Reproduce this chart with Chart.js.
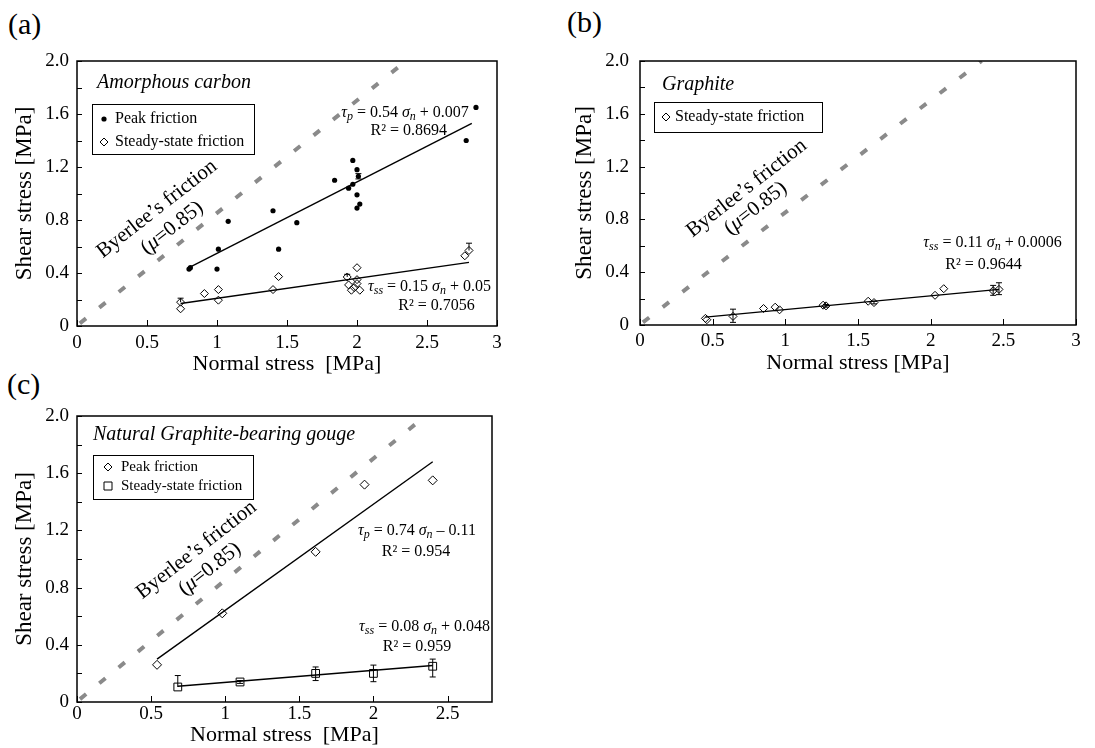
<!DOCTYPE html>
<html lang="en">
<head>
<meta charset="UTF-8">
<title>Shear stress vs normal stress</title>
<script src="https://cdn.jsdelivr.net/npm/chart.js@4"></script>
<style>
  body { margin: 0; background: #fff; }
  #wrap { position: relative; width: 1095px; height: 748px; overflow: hidden; background: #fff; }
  .tag { position: absolute; font: 30px "Liberation Serif", serif; color: #000; line-height: 1; }
  .box { position: absolute; overflow: hidden; }
  #blank { position: absolute; left: 560px; top: 380px; width: 535px; height: 368px; background: #fff; z-index: 5; }
</style>
</head>
<body>
<div id="wrap">
  <div class="tag" style="left:8px;top:9px">(a)</div>
  <div class="tag" style="left:567px;top:7px">(b)</div>
  <div class="tag" style="left:7px;top:369px">(c)</div>
  <div class="box" style="left:0;top:0;width:555px;height:375px"><canvas id="chartA" width="555" height="375"></canvas></div>
  <div class="box" style="left:560px;top:0;width:535px;height:375px"><canvas id="chartB" width="535" height="375"></canvas></div>
  <div class="box" style="left:0;top:385px;width:560px;height:363px"><canvas id="chartC" width="560" height="363"></canvas></div>
  <div id="blank"></div>
</div>
<script>
// tick labels
const yLabelValues = [0, 0.4, 0.8, 1.2, 1.6, 2.0];
const xLabelValues = [0, 0.5, 1, 1.5, 2, 2.5, 3];

// Byerlee's friction (mu = 0.85)
const byerleeX = [0.02, 2.35];
const byerleeY = [0.02, 2.0];

// (a) Amorphous carbon
const aPeakX = [0.80, 0.81, 1.00, 1.01, 1.08, 1.40, 1.44, 1.57, 1.84, 1.94, 1.97, 1.97, 2.00, 2.01, 2.00, 2.00, 2.02, 2.78, 2.85];
const aPeakY = [0.43, 0.44, 0.43, 0.58, 0.79, 0.87, 0.58, 0.78, 1.10, 1.04, 1.25, 1.07, 1.18, 1.13, 0.99, 0.89, 0.92, 1.40, 1.65];
const aPeakErr = [0, 0, 0, 0, 0, 0, 0, 0, 0, 0, 0, 0, 0, 0.02, 0, 0, 0, 0, 0];
const aSteadyX = [0.74, 0.74, 0.91, 1.01, 1.01, 1.40, 1.44, 1.93, 1.94, 1.96, 1.98, 2.00, 2.00, 2.00, 2.02, 2.77, 2.80];
const aSteadyY = [0.18, 0.13, 0.245, 0.275, 0.195, 0.275, 0.373, 0.37, 0.31, 0.27, 0.29, 0.44, 0.35, 0.32, 0.27, 0.53, 0.57];
const aSteadyErr = [0.03, 0, 0, 0, 0, 0, 0, 0.02, 0, 0, 0, 0, 0, 0, 0, 0, 0.055];
const aPeakFitX = [0.80, 2.82];
const aPeakFitY = [0.44, 1.53];
const aSteadyFitX = [0.74, 2.80];
const aSteadyFitY = [0.17, 0.48];

// (b) Graphite
const bSteadyX = [0.45, 0.46, 0.64, 0.85, 0.93, 0.96, 1.26, 1.28, 1.57, 1.61, 2.03, 2.09, 2.43, 2.47];
const bSteadyY = [0.05, 0.04, 0.065, 0.125, 0.135, 0.115, 0.15, 0.145, 0.18, 0.17, 0.225, 0.275, 0.26, 0.27];
const bErrUp = [0, 0, 0.055, 0, 0, 0, 0, 0.01, 0, 0.01, 0, 0, 0.04, 0.05];
const bErrDown = [0, 0, 0.045, 0, 0, 0, 0, 0.01, 0, 0.01, 0, 0, 0.035, 0.04];
const bFitX = [0.45, 2.47];
const bFitY = [0.06, 0.27];

// (c) Natural graphite-bearing gouge
const cPeakX = [0.54, 0.98, 1.61, 1.94, 2.40];
const cPeakY = [0.26, 0.62, 1.05, 1.52, 1.55];
const cSteadyX = [0.68, 1.10, 1.61, 2.00, 2.40];
const cSteadyY = [0.105, 0.14, 0.20, 0.20, 0.25];
const cErrUp = [0.08, 0.01, 0.045, 0.058, 0.05];
const cErrDown = [0, 0.01, 0.05, 0.058, 0.075];
const cPeakFitX = [0.54, 2.40];
const cPeakFitY = [0.30, 1.68];
const cSteadyFitX = [0.68, 2.40];
const cSteadyFitY = [0.11, 0.255];

const FONT = '"Liberation Serif", "Times New Roman", serif';
Chart.defaults.font.family = FONT;
Chart.defaults.color = '#000';

const pts = (xs, ys) => xs.map((x, i) => ({ x: x, y: ys[i] }));
const near = (a, b) => Math.abs(a - b) < 1e-6;

function byerleeSet() {
    return { data: pts(byerleeX, byerleeY), showLine: true, borderColor: '#8a8a8a', borderWidth: 4,
             borderDash: [8, 17], pointRadius: 0 };
}
function fitSet(xs, ys) {
    return { data: pts(xs, ys), showLine: true, borderColor: '#000', borderWidth: 1.4, pointRadius: 0 };
}
function pointSet(xs, ys, style, r, extra) {
    return Object.assign({ data: pts(xs, ys), pointStyle: style, pointRadius: r, borderColor: '#000',
             borderWidth: 1, backgroundColor: style === 'circle' ? '#000' : 'rgba(0,0,0,0)' }, extra || {});
}

// rich text: parts = [text, style] where style n = normal, i = italic, s = italic subscript
function richText(ctx, parts, x, y, size) {
    const fontFor = st => (st === 'n' ? '' : 'italic ') + (st === 's' ? Math.round(size * 0.75) : size) + 'px ' + FONT;
    let w = 0;
    parts.forEach(([t, st]) => { ctx.font = fontFor(st); w += ctx.measureText(t).width; });
    let cx = x - w / 2;
    ctx.textAlign = 'left';
    ctx.textBaseline = 'middle';
    parts.forEach(([t, st]) => {
        ctx.font = fontFor(st);
        ctx.fillText(t, cx, st === 's' ? y + size * 0.25 : y);
        cx += ctx.measureText(t).width;
    });
}

function drawMarker(ctx, kind, x, y) {
    ctx.beginPath();
    if (kind === 'dot') {
        ctx.arc(x, y, 2.6, 0, Math.PI * 2);
        ctx.fill();
    } else if (kind === 'diamond') {
        ctx.moveTo(x, y - 4); ctx.lineTo(x + 4, y); ctx.lineTo(x, y + 4); ctx.lineTo(x - 4, y); ctx.closePath();
        ctx.stroke();
    } else {
        ctx.rect(x - 4, y - 4, 8, 8);
        ctx.stroke();
    }
}

// frame, inward ticks and error bars
const framePlugin = {
    id: 'frame',
    afterDatasetsDraw(chart) {
        const ctx = chart.ctx, xs = chart.scales.x, ys = chart.scales.y;
        ctx.save();
        ctx.strokeStyle = '#000';
        ctx.lineWidth = 1;
        ctx.setLineDash([]);
        chart.data.datasets.forEach(ds => {
            if (!ds.errUp) return;
            ds.data.forEach((p, i) => {
                const up = ds.errUp[i] || 0, dn = (ds.errDown || [])[i] || 0;
                if (!up && !dn) return;
                const px = xs.getPixelForValue(p.x);
                const y1 = ys.getPixelForValue(p.y + up), y2 = ys.getPixelForValue(p.y - dn);
                ctx.beginPath();
                ctx.moveTo(px, y1); ctx.lineTo(px, y2);
                if (up) { ctx.moveTo(px - 3, y1); ctx.lineTo(px + 3, y1); }
                if (dn) { ctx.moveTo(px - 3, y2); ctx.lineTo(px + 3, y2); }
                ctx.stroke();
            });
        });
        ctx.restore();
    },
    afterDraw(chart) {
        const ctx = chart.ctx, a = chart.chartArea, xs = chart.scales.x, ys = chart.scales.y;
        ctx.save();
        ctx.setLineDash([]);
        ctx.strokeStyle = '#000';
        ctx.lineWidth = 1.5;
        ctx.strokeRect(a.left, a.top, a.right - a.left, a.bottom - a.top);
        ctx.lineWidth = 1;
        ctx.beginPath();
        xs.ticks.forEach(t => {
            const p = Math.round(xs.getPixelForValue(t.value)) + 0.5;
            ctx.moveTo(p, a.bottom); ctx.lineTo(p, a.bottom - 6);
        });
        ys.ticks.forEach(t => {
            const p = Math.round(ys.getPixelForValue(t.value)) + 0.5;
            ctx.moveTo(a.left, p); ctx.lineTo(a.left + 5, p);
        });
        ctx.stroke();
        ctx.restore();
    }
};

function notesPlugin(n) {
    return {
        id: 'notes',
        afterDraw(chart) {
            const ctx = chart.ctx, a = chart.chartArea, xs = chart.scales.x, ys = chart.scales.y;
            const X = v => xs.getPixelForValue(v), Y = v => ys.getPixelForValue(v);
            ctx.save();
            ctx.setLineDash([]);
            ctx.fillStyle = '#000';
            ctx.strokeStyle = '#000';
            // panel title
            ctx.font = 'italic 20px ' + FONT;
            ctx.textAlign = 'left';
            ctx.textBaseline = 'middle';
            ctx.fillText(n.title[0], X(n.title[1]), Y(n.title[2]));
            // legend box
            const L = n.legend, bx = a.left + L.x, by = a.top + L.y;
            ctx.fillStyle = '#fff';
            ctx.fillRect(bx, by, L.w, L.h);
            ctx.lineWidth = 1;
            ctx.strokeRect(bx + 0.5, by + 0.5, L.w, L.h);
            ctx.fillStyle = '#000';
            L.items.forEach((it, i) => {
                const ry = by + L.rows[i];
                drawMarker(ctx, it[0], bx + L.mx, ry);
                ctx.font = L.size + 'px ' + FONT;
                ctx.textAlign = 'left';
                ctx.textBaseline = 'middle';
                ctx.fillText(it[1], bx + L.tx, ry);
            });
            // equations
            n.texts.forEach(t => richText(ctx, t[0], X(t[1]), Y(t[2]), t[3] || 16));
            // Byerlee label
            n.byerlee.forEach((b, i) => {
                ctx.save();
                ctx.translate(X(b[0]), Y(b[1]));
                ctx.rotate(-38 * Math.PI / 180);
                richText(ctx, i === 0 ? [['Byerlee\u2019s friction', 'n']] : [['(', 'n'], ['\u03bc', 'i'], ['=0.85)', 'n']], 0, 0, 21);
                ctx.restore();
            });
            ctx.restore();
        }
    };
}

function makePanel(id, o) {
    return new Chart(document.getElementById(id), {
        type: 'scatter',
        data: { datasets: o.datasets },
        options: {
            responsive: false,
            animation: false,
            layout: { padding: o.pad },
            plugins: { legend: { display: false }, tooltip: { enabled: false } },
            scales: {
                x: {
                    type: 'linear', min: 0, max: o.xMax,
                    afterFit: s => { s.height = o.xH; },
                    afterBuildTicks: s => { s.ticks = xLabelValues.filter(v => v <= o.xMax).map(v => ({ value: v })); },
                    grid: { display: false, drawTicks: false },
                    border: { display: false },
                    ticks: { stepSize: 0.5, padding: o.xPad, font: { size: 19 }, color: '#000',
                             callback: v => String(Math.round(v * 10) / 10) },
                    title: { display: true, text: o.xTitle, font: { size: 22, lineHeight: 1 },
                             padding: { top: 0, bottom: o.xTitlePad }, color: '#000' }
                },
                y: {
                    type: 'linear', min: 0, max: 2,
                    afterFit: s => { s.width = o.yW; },
                    grid: { display: false, drawTicks: false },
                    border: { display: false },
                    ticks: { stepSize: 0.2, padding: o.yPad, font: { size: 19 }, color: '#000',
                             callback: v => yLabelValues.some(l => near(l, v)) ? (v === 0 ? '0' : v.toFixed(1)) : '' },
                    title: { display: true, text: 'Shear stress [MPa]', font: { size: 23, lineHeight: 1 },
                             padding: { top: 13, bottom: 0 }, color: '#000' }
                }
            }
        },
        plugins: [framePlugin, notesPlugin(o.notes)]
    });
}

const eq = (tau, a, b) => [['\u03c4', 'i'], [tau, 's'], [' = ' + a + ' ', 'n'], ['\u03c3', 'i'], ['n', 's'], [' ' + b, 'n']];

makePanel('chartA', {
    pad: { top: 61, right: 58, left: 0, bottom: 0 },
    xMax: 3, xH: 49, yW: 77, xPad: 6, yPad: 8, xTitlePad: 0,
    xTitle: 'Normal stress  [MPa]',
    datasets: [
        pointSet(aPeakX, aPeakY, 'circle', 2.6, { borderWidth: 0, errUp: aPeakErr, errDown: aPeakErr }),
        pointSet(aSteadyX, aSteadyY, 'rectRot', 4, { errUp: aSteadyErr }),
        fitSet(aPeakFitX, aPeakFitY),
        fitSet(aSteadyFitX, aSteadyFitY),
        byerleeSet()
    ],
    notes: {
        title: ['Amorphous carbon', 0.143, 1.834],
        legend: { x: 15, y: 43, w: 162, h: 50, rows: [15, 38], mx: 12, tx: 23, size: 16,
                  items: [['dot', 'Peak friction'], ['diamond', 'Steady-state friction']] },
        texts: [
            [eq('p', '0.54', '+ 0.007'), 2.343, 1.608],
            [[['R\u00b2 = 0.8694', 'n']], 2.37, 1.472],
            [eq('ss', '0.15', '+ 0.05'), 2.518, 0.294],
            [[['R\u00b2 = 0.7056', 'n']], 2.568, 0.151]
        ],
        byerlee: [[0.571, 0.883], [0.679, 0.74]]
    }
});

makePanel('chartB', {
    pad: { top: 61, right: 19, left: 0, bottom: 0 },
    xMax: 3, xH: 50, yW: 80, xPad: 5, yPad: 11, xTitlePad: 1,
    xTitle: 'Normal stress [MPa]',
    datasets: [
        pointSet(bSteadyX, bSteadyY, 'rectRot', 4, { errUp: bErrUp, errDown: bErrDown }),
        fitSet(bFitX, bFitY),
        byerleeSet()
    ],
    notes: {
        title: ['Graphite', 0.151, 1.818],
        legend: { x: 14, y: 41, w: 168, h: 30, rows: [15], mx: 12, tx: 21, size: 16,
                  items: [['diamond', 'Steady-state friction']] },
        texts: [
            [eq('ss', '0.11', '+ 0.0006'), 2.426, 0.621],
            [[['R\u00b2 = 0.9644', 'n']], 2.364, 0.455]
        ],
        byerlee: [[0.734, 1.036], [0.796, 0.884]]
    }
});

makePanel('chartC', {
    pad: { top: 31, right: 68, left: 0, bottom: 0 },
    xMax: 2.8, xH: 46, yW: 77, xPad: 1, yPad: 8, xTitlePad: 2,
    xTitle: 'Normal stress  [MPa]',
    datasets: [
        pointSet(cPeakX, cPeakY, 'rectRot', 4.5),
        pointSet(cSteadyX, cSteadyY, 'rect', 5.5, { errUp: cErrUp, errDown: cErrDown }),
        fitSet(cPeakFitX, cPeakFitY),
        fitSet(cSteadyFitX, cSteadyFitY),
        byerleeSet()
    ],
    notes: {
        title: ['Natural Graphite-bearing gouge', 0.108, 1.867],
        legend: { x: 16, y: 39, w: 160, h: 44, rows: [12, 31], mx: 15, tx: 28, size: 15,
                  items: [['diamond', 'Peak friction'], ['square', 'Steady-state friction']] },
        texts: [
            [eq('p', '0.74', '\u2013 0.11'), 2.294, 1.196],
            [[['R\u00b2 = 0.954', 'n']], 2.288, 1.049],
            [eq('ss', '0.08', '+ 0.048'), 2.345, 0.524],
            [[['R\u00b2 = 0.959', 'n']], 2.294, 0.385]
        ],
        byerlee: [[0.806, 1.063], [0.896, 0.93]]
    }
});
</script>
</body>
</html>
